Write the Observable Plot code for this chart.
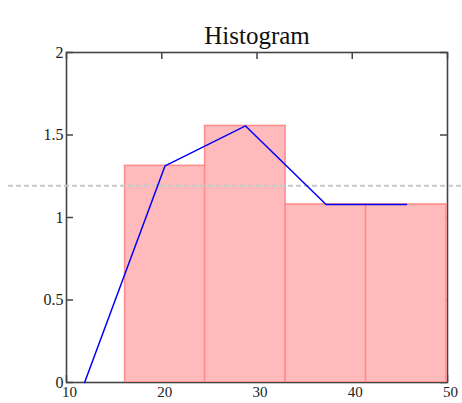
<!DOCTYPE html>
<html>
<head>
<meta charset="utf-8">
<script src="https://cdn.jsdelivr.net/npm/d3@7"></script>
<script src="https://cdn.jsdelivr.net/npm/@observablehq/plot@0.6"></script>
<style>
  html, body { margin: 0; padding: 0; background: #fff; }
  svg { display: block; }
</style>
</head>
<body>
<div id="chart"></div>
<script>
const title = "Histogram";
const binEdges = [7.7, 16.15, 24.55, 33.0, 41.45, 49.9];
const binHeights = [0, 1.313, 1.555, 1.079, 1.079];
const lineX = [11.9, 20.35, 28.8, 37.25, 45.7];
const lineY = [0, 1.313, 1.555, 1.079, 1.079];
const refLevel = 1.192;
const xTicks = [10, 20, 30, 40, 50];
const yTicks = [0, 0.5, 1, 1.5, 2];

const bins = binHeights.map((h, i) => ({x1: binEdges[i], x2: binEdges[i + 1], y: h}));
const pts = lineX.map((x, i) => ({x, y: lineY[i]}));

const serif = "Liberation Serif, Times New Roman, serif";
const axisColor = "#444";
const W = 462, H = 403, mL = 66, mR = 15, mT = 52, mB = 21;
const plotW = W - mL - mR, plotH = H - mT - mB, tick = 7;

const chart = Plot.plot({
  width: W,
  height: H,
  marginLeft: mL,
  marginRight: mR,
  marginTop: mT,
  marginBottom: mB,
  style: {fontFamily: serif, background: "#fff", overflow: "visible"},
  x: {domain: [10, 50]},
  y: {domain: [0, 2]},
  marks: [
    Plot.frame({stroke: axisColor, strokeWidth: 1.6}),
    // inward ticks on all four sides
    Plot.tickX(xTicks, {x: d => d, stroke: axisColor, strokeWidth: 1.5, insetBottom: plotH - tick}),
    Plot.tickX(xTicks, {x: d => d, stroke: axisColor, strokeWidth: 1.5, insetTop: plotH - tick}),
    Plot.tickY(yTicks, {y: d => d, stroke: axisColor, strokeWidth: 1.5, insetRight: plotW - tick}),
    Plot.tickY(yTicks, {y: d => d, stroke: axisColor, strokeWidth: 1.5, insetLeft: plotW - tick}),
    // labels
    Plot.axisX({anchor: "bottom", ticks: xTicks, tickSize: 0, tickPadding: 4, dx: 3, fontSize: 15, fontFamily: serif, fill: "#222", label: null}),
    Plot.axisY({anchor: "left", ticks: yTicks, tickSize: 0, tickPadding: 3, fontSize: 16, fontFamily: serif, fill: "#222", label: null, tickFormat: d => String(d)}),
    Plot.rectY(bins, {x1: "x1", x2: "x2", y: "y", fill: "#ffbbbb", stroke: "#ff8a8a", strokeWidth: 1.5, clip: true}),
    Plot.ruleY([refLevel], {stroke: "#c8c8c8", strokeWidth: 2, strokeDasharray: "5,3", insetLeft: -58, insetRight: -15}),
    Plot.line(pts, {x: "x", y: "y", stroke: "#0000ff", strokeWidth: 1.5}),
    Plot.text([title], {frameAnchor: "top", dy: -26.7, fontSize: 25, fontFamily: serif, fill: "#111"})
  ]
});
document.getElementById("chart").appendChild(chart);
</script>
</body>
</html>
